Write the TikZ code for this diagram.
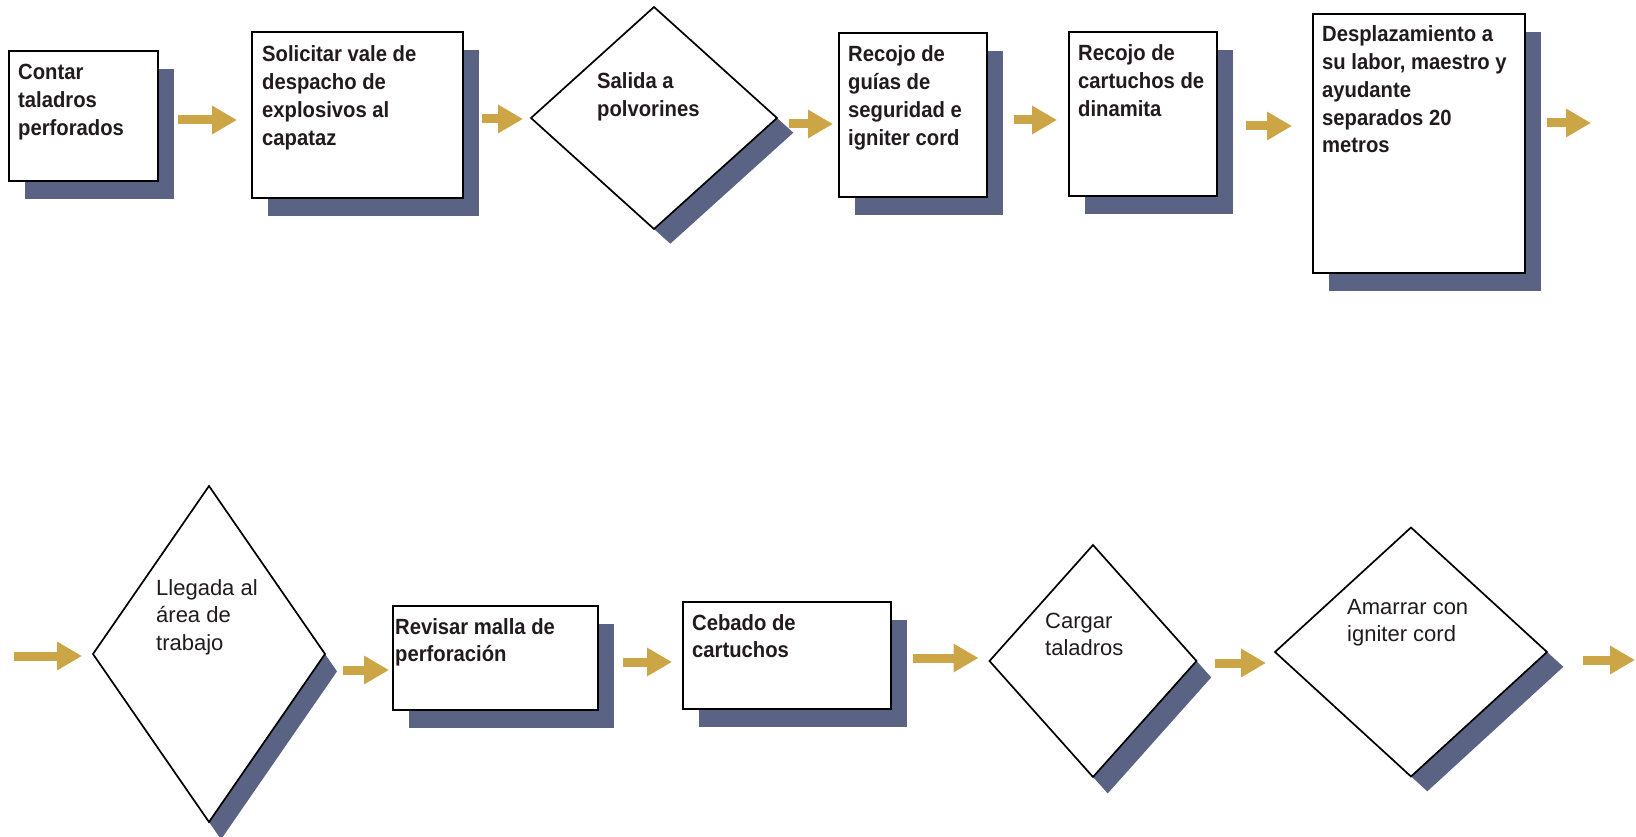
\documentclass[tikz,border=0pt]{standalone}
\usepackage{fontspec}
\setmainfont{Liberation Sans}
\newfontfamily\txtfont{Liberation Sans}[FakeStretch=0.92]
\usetikzlibrary{shapes.geometric,shadows,arrows.meta}
\definecolor{gold}{HTML}{CCA646}
\definecolor{shade}{HTML}{5B6385}
\definecolor{ink}{HTML}{221A1E}
\newcommand\ml[1]{\begin{tabular}[t]{@{}l@{}}#1\end{tabular}}
\tikzset{
 x=1pt,y=1pt,
 sh/.style={drop shadow={shadow xshift=16pt, shadow yshift=-18pt, fill=shade, opacity=1}},
 dsh/.style 2 args={drop shadow={shadow xshift=#1, shadow yshift=-#2, fill=shade, opacity=1}},
 box/.style={rectangle, draw=black, line width=2.4pt, fill=white, inner sep=0pt, outer sep=0pt, sh},
 dia/.style={diamond, draw=black, line width=1.7pt, fill=white, inner sep=0pt, outer sep=0pt},
 lbl/.style={inner sep=0pt, anchor=base west, text=ink, font=\txtfont\bfseries\fontsize{22}{27.7}\selectfont},
 lbltwo/.style={lbl, font=\fontsize{22}{27.7}\selectfont},
 arr/.style={draw=gold, line width=9pt, -{Triangle[length=25pt,width=27pt]}},
}
\begin{document}
\begin{tikzpicture}
\useasboundingbox[fill=white] (0,0) rectangle (1636,-837);
% top row
\node[box, minimum width=149pt, minimum height=130pt] (b1) at (83.5,-116) {};
\node[box, minimum width=211pt, minimum height=166pt] (b2) at (357.5,-115) {};
\node[dia, dsh={16.3pt}{14.7pt}, minimum width=246pt, minimum height=222pt] (d1) at (654,-118) {};
\node[box, minimum width=148pt, minimum height=164pt] (b3) at (913,-115) {};
\node[box, minimum width=148pt, minimum height=164pt] (b4) at (1143,-114) {};
\node[box, minimum width=212pt, minimum height=259pt] (b5) at (1419,-143.5) {};
\coordinate (out1) at (1591,-123);
% bottom row
\coordinate (in2) at (14,-656);
\node[dia, dsh={12pt}{17.4pt}, minimum width=232pt, minimum height=336pt] (d2) at (209,-654) {};
\node[box, minimum width=205pt, minimum height=104pt] (b6) at (495.5,-658) {};
\node[box, minimum width=208pt, minimum height=107pt] (b7) at (787,-655.5) {};
\node[dia, dsh={14.7pt}{16.4pt}, minimum width=207pt, minimum height=232pt] (d3) at (1093,-661) {};
\node[dia, dsh={16.3pt}{14.8pt}, minimum width=272pt, minimum height=249pt] (d4) at (1411,-652) {};
\coordinate (out2) at (1635,-660);
% texts
\node[lbl] (t1) at (18,-80) {\ml{Contar\\taladros\\perforados}};
\node[lbl] (t2) at (262,-62) {\ml{Solicitar vale de\\despacho de\\explosivos al\\capataz}};
\node[lbl] (td1) at (597,-89) {\ml{Salida a\\polvorines}};
\node[lbl] (t3) at (848,-62) {\ml{Recojo de\\guías de\\seguridad e\\igniter cord}};
\node[lbl] (t4) at (1078,-61) {\ml{Recojo de\\cartuchos de\\dinamita}};
\node[lbl] (t5) at (1322,-42) {\ml{Desplazamiento a\\su labor, maestro y\\ayudante\\separados 20\\metros}};
\node[lbltwo] (td2) at (156,-595) {\ml{Llegada al\\área de\\trabajo}};
\node[lbl] (t6) at (395,-634) {\ml{Revisar malla de\\perforación}};
\node[lbl] (t7) at (692,-630) {\ml{Cebado de\\cartuchos}};
\node[lbltwo] (td3) at (1045,-628) {\ml{Cargar\\taladros}};
\node[lbltwo] (td4) at (1347,-614) {\ml{Amarrar con\\igniter cord}};
% arrows
\draw[arr, shorten <=20pt, shorten >=15pt] (b1.east |- 0,-120) -- (b2.west |- 0,-120);
\draw[arr, shorten <=19pt, shorten >=8pt] (b2.east |- 0,-119) -- (d1.west |- 0,-119);
\draw[arr, shorten <=12pt, shorten >=6pt] (d1.east |- 0,-124) -- (b3.west |- 0,-124);
\draw[arr, shorten <=27pt, shorten >=12pt] (b3.east |- 0,-120) -- (b4.west |- 0,-120);
\draw[arr, shorten <=29pt, shorten >=21pt] (b4.east |- 0,-126) -- (b5.west |- 0,-126);
\draw[arr, shorten <=22pt] (b5.east |- out1) -- (out1);
\draw[arr, shorten >=11pt] (in2) -- (d2.west |- in2);
\draw[arr, shorten <=18pt, shorten >=4pt] (d2.east |- 0,-670) -- (b6.west |- 0,-670);
\draw[arr, shorten <=25pt, shorten >=11pt] (b6.east |- 0,-662) -- (b7.west |- 0,-662);
\draw[arr, shorten <=22pt, shorten >=11pt] (b7.east |- 0,-658) -- (d3.west |- 0,-658);
\draw[arr, shorten <=18pt, shorten >=9pt] (d3.east |- 0,-663) -- (d4.west |- 0,-663);
\draw[arr, shorten <=36pt] (d4.east |- out2) -- (out2);
\end{tikzpicture}
\end{document}
